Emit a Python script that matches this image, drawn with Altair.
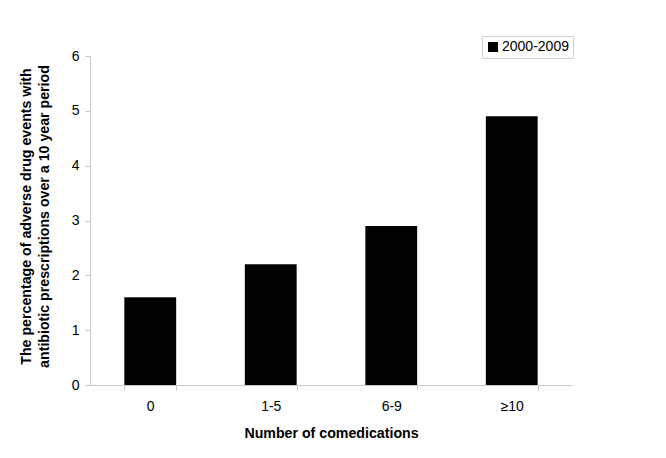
import altair as alt
import pandas as pd

categories = ["0", "1-5", "6-9", "≥10"]
values = [1.6, 2.2, 2.9, 4.9]
series = ["2000-2009"] * 4

df = pd.DataFrame({"cat": categories, "val": values, "series": series})

FONT = "Liberation Sans"

chart = alt.Chart(df).mark_bar(color="black").encode(
    x=alt.X("cat:N", sort=categories,
            scale=alt.Scale(paddingInner=0.57, paddingOuter=0.285),
            axis=alt.Axis(title="Number of comedications", labelAngle=0,
                          tickBand="extent", tickSize=5, tickColor="#c8c8c8",
                          domainColor="#c8c8c8", labelPadding=9,
                          titlePadding=13, titleFontSize=14.2)),
    y=alt.Y("val:Q", scale=alt.Scale(domain=[0, 6]),
            axis=alt.Axis(title=["The percentage of adverse drug events with",
                                 "antibiotic prescriptions over a 10 year period"],
                          values=[0, 1, 2, 3, 4, 5, 6], grid=False, tickSize=5,
                          tickColor="#c8c8c8", domainColor="#c8c8c8",
                          labelPadding=6, titlePadding=20, titleFontSize=14.2,
                          titleLineHeight=18, titleY=160)),
    fill=alt.Fill("series:N", scale=alt.Scale(range=["black"]),
                  legend=alt.Legend(title=None, orient="none", legendX=392, legendY=-20,
                                    symbolType="square", symbolSize=100,
                                    strokeColor="#d0d0d0", padding=4, labelOffset=2,
                                    labelFontSize=14, labelFont=FONT,
                                    labelColor="black")),
).properties(
    width=482, height=329,
    autosize=alt.AutoSizeParams(type="none"),
    padding={"left": 82, "top": 48, "right": 86, "bottom": 65},
).configure_axis(
    labelFont=FONT, titleFont=FONT, labelFontSize=14,
    labelColor="black", titleColor="black", titleFontWeight="bold",
).configure_view(stroke=None)

chart.save("out.html", embed_options={"renderer": "svg", "actions": False})
